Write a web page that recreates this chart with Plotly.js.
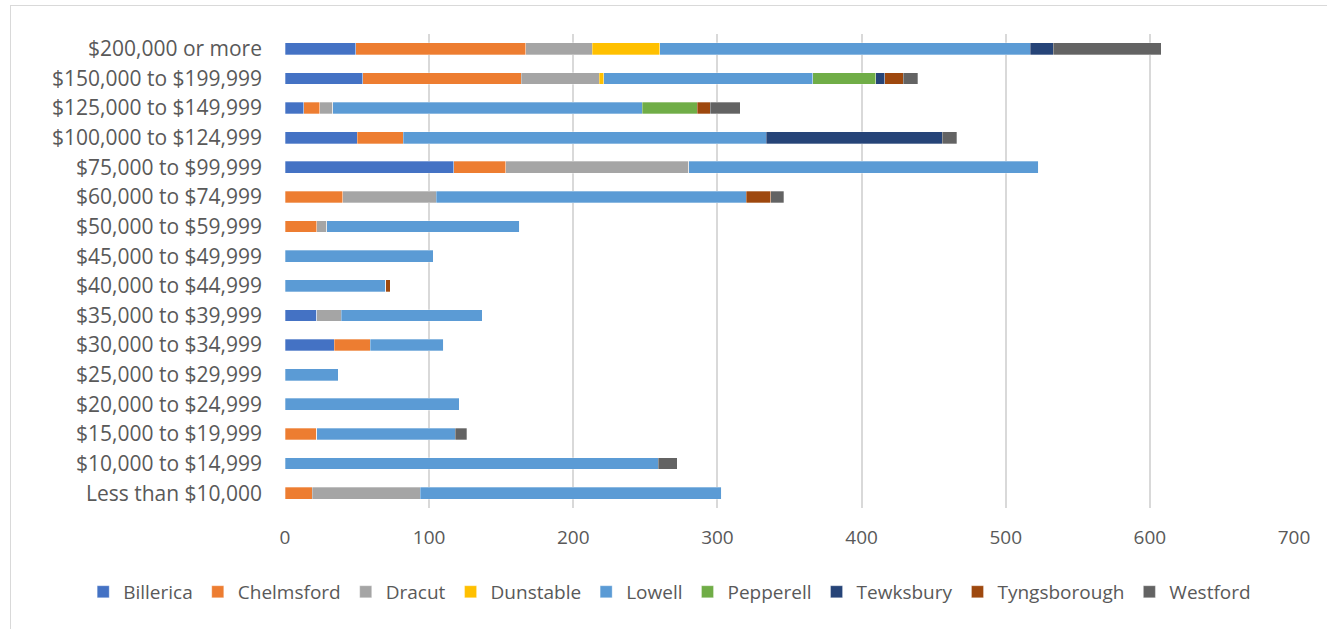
<!DOCTYPE html>
<html>
<head>
<meta charset="utf-8">
<script src="https://cdn.plot.ly/plotly-3.0.1.min.js"></script>
<style>
  html, body { margin: 0; padding: 0; background: #fff; }
  #wrap { position: relative; width: 1327px; height: 629px; overflow: hidden; }
  #chart { position: absolute; left: 0; top: 0; width: 1327px; height: 629px; }
  #frame { position: absolute; left: 10px; top: 5px; width: 1330px; height: 640px;
           border: 1.5px solid #d9d9d9; box-sizing: border-box; pointer-events: none; }
</style>
</head>
<body>
<div id="wrap">
  <div id="chart"></div>
  <div id="frame"></div>
</div>
<script>
// Household income brackets, lowest first (drawn bottom to top)
const incomeBrackets = [
  "Less than $10,000",
  "$10,000 to $14,999",
  "$15,000 to $19,999",
  "$20,000 to $24,999",
  "$25,000 to $29,999",
  "$30,000 to $34,999",
  "$35,000 to $39,999",
  "$40,000 to $44,999",
  "$45,000 to $49,999",
  "$50,000 to $59,999",
  "$60,000 to $74,999",
  "$75,000 to $99,999",
  "$100,000 to $124,999",
  "$125,000 to $149,999",
  "$150,000 to $199,999",
  "$200,000 or more"
];

// Household counts per town, one value per bracket above
const billerica    = [0, 0, 0, 0, 0, 34, 22, 0, 0, 0, 0, 117, 50, 13, 54, 49];
const chelmsford   = [19, 0, 22, 0, 0, 25, 0, 0, 0, 22, 40, 36, 32, 11, 110, 118];
const dracut       = [75, 0, 0, 0, 0, 0, 17, 0, 0, 7, 65, 127, 0, 9, 54, 46];
const dunstable    = [0, 0, 0, 0, 0, 0, 0, 0, 0, 0, 0, 0, 0, 0, 3, 47];
const lowell       = [209, 259, 96, 121, 37, 51, 98, 70, 103, 134, 215, 243, 252, 215, 145, 257];
const pepperell    = [0, 0, 0, 0, 0, 0, 0, 0, 0, 0, 0, 0, 0, 38, 44, 0];
const tewksbury    = [0, 0, 0, 0, 0, 0, 0, 0, 0, 0, 0, 0, 122, 0, 6, 16];
const tyngsborough = [0, 0, 0, 0, 0, 0, 0, 3, 0, 0, 17, 0, 0, 9, 13, 0];
const westford     = [0, 13, 8, 0, 0, 0, 0, 0, 0, 0, 9, 0, 10, 21, 10, 75];

const towns = [
  { name: "Billerica",    values: billerica,    color: "#4472C4" },
  { name: "Chelmsford",   values: chelmsford,   color: "#ED7D31" },
  { name: "Dracut",       values: dracut,       color: "#A5A5A5" },
  { name: "Dunstable",    values: dunstable,    color: "#FFC000" },
  { name: "Lowell",       values: lowell,       color: "#5B9BD5" },
  { name: "Pepperell",    values: pepperell,    color: "#70AD47" },
  { name: "Tewksbury",    values: tewksbury,    color: "#264478" },
  { name: "Tyngsborough", values: tyngsborough, color: "#9E480E" },
  { name: "Westford",     values: westford,     color: "#636363" }
];

const textColor = "#595959";
const fontFamily = "'Open Sans', 'Liberation Sans', sans-serif";

const traces = towns.map(t => ({
  type: "bar",
  orientation: "h",
  name: t.name,
  y: incomeBrackets,
  x: t.values,
  marker: { color: t.color, line: { color: "rgba(255,255,255,0.6)", width: 0.5 } },
  hovertemplate: "%{y}<br>" + t.name + ": %{x}<extra></extra>"
}));

const layout = {
  width: 1327,
  height: 629,
  barmode: "stack",
  bargap: 0.6,
  paper_bgcolor: "#ffffff",
  plot_bgcolor: "#ffffff",
  margin: { l: 285, r: 33, t: 34, b: 121 },
  font: { family: fontFamily, color: textColor, size: 17 },
  xaxis: {
    range: [0, 700],
    dtick: 100,
    showgrid: true,
    gridcolor: "#d9d9d9",
    gridwidth: 1.5,
    zeroline: false,
    showline: false,
    ticks: "",
    ticklabelstandoff: 16,
    tickfont: { size: 19, color: textColor }
  },
  yaxis: {
    type: "category",
    showgrid: false,
    zeroline: false,
    showline: false,
    ticks: "",
    ticklabelstandoff: 22,
    tickfont: { size: 21, color: textColor }
  },
  legend: {
    orientation: "h",
    x: -0.2,
    xanchor: "left",
    y: -0.177,
    yanchor: "middle",
    traceorder: "normal",
    font: { size: 19, color: textColor },
    itemwidth: 30
  },
  showlegend: true
};

Plotly.newPlot("chart", traces, layout, { displayModeBar: false });
</script>
</body>
</html>
